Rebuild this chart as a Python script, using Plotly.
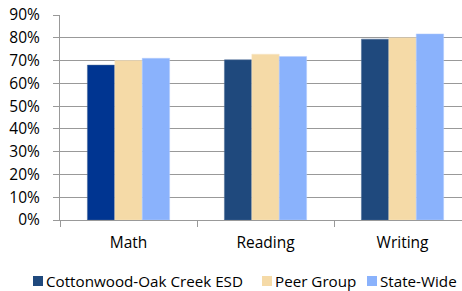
import plotly.graph_objects as go

categories = ["Math", "Reading", "Writing"]
series_names = ["Cottonwood-Oak Creek ESD", "Peer Group", "State-Wide"]
district = [0.68, 0.703, 0.794]
peer = [0.70, 0.728, 0.80]
state = [0.71, 0.718, 0.817]
y_ticks = [0, 0.1, 0.2, 0.3, 0.4, 0.5, 0.6, 0.7, 0.8, 0.9]
series_colors = ["#1F497D", "#F5DAA7", "#8AB2FC"]
district_bar_colors = ["#003591", "#1F497D", "#1F497D"]

font = "Open Sans, sans-serif"
W, H = 462, 291
L, R, T, B = 60, 0, 15, 71
pw, ph = W - L - R, H - T - B

fig = go.Figure()
fig.add_bar(x=categories, y=district, name=series_names[0],
            marker=dict(color=district_bar_colors, line=dict(color="#4a6a95", width=0.5)))
fig.add_bar(x=categories, y=peer, name=series_names[1],
            marker=dict(color=series_colors[1], line=dict(color="#f8e6c4", width=0.5)))
fig.add_bar(x=categories, y=state, name=series_names[2],
            marker=dict(color=series_colors[2], line=dict(color="#b5cdfd", width=0.5)))

fig.update_layout(
    width=W, height=H,
    margin=dict(l=L, r=R, t=T, b=B, pad=0),
    plot_bgcolor="white", paper_bgcolor="white",
    barmode="group", bargap=0.4, bargroupgap=0,
    font=dict(family=font, size=15.5, color="black"),
    showlegend=False,
)

# manual legend (swatch + label) placed in pixel terms
legend_swatch_x = [33, 262, 367]
legend_y = 281
def px_x(p):
    return (p - L) / pw
def px_y(p):
    return (H - B - p) / ph
for i, name in enumerate(series_names):
    x0 = legend_swatch_x[i]
    fig.add_shape(type="rect", xref="paper", yref="paper",
                  x0=px_x(x0), x1=px_x(x0 + 10), y0=px_y(legend_y + 5), y1=px_y(legend_y - 5),
                  fillcolor=series_colors[i], line=dict(width=0))
    fig.add_annotation(xref="paper", yref="paper", x=px_x(x0 + 12), y=px_y(legend_y),
                       text=name, showarrow=False, xanchor="left", yanchor="middle",
                       borderpad=0,
                       font=dict(size=15.2, family=font, color="black"))

fig.update_xaxes(range=[-0.5, 2.434], showline=True, linecolor="#999999", linewidth=1,
                 ticks="outside", tickson="boundaries", ticklen=6, tickcolor="#999999",
                 showgrid=False, ticklabelstandoff=8, automargin=False)
fig.update_yaxes(range=[0, 0.9], tickvals=y_ticks, tickformat=".0%", showline=True,
                 linecolor="#999999", linewidth=1, ticks="outside", ticklen=6,
                 tickcolor="#999999", gridcolor="#999999", gridwidth=1,
                 zeroline=False, ticklabelstandoff=10, automargin=False)
fig.write_html("out.html", config={"displayModeBar": False},
               post_script="document.body.style.margin='0';document.body.style.overflow='hidden';")
